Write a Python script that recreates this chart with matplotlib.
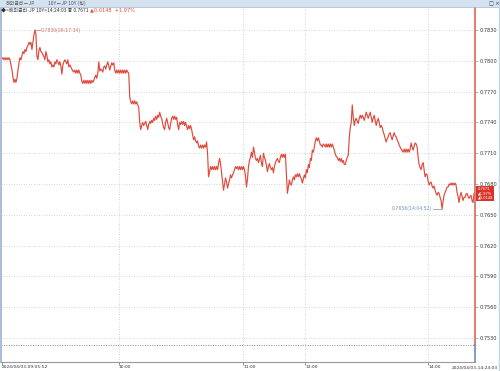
import matplotlib
matplotlib.use("Agg")
import matplotlib.pyplot as plt
from matplotlib.patches import Rectangle

plt.rcParams['font.family'] = ['Noto Sans CJK KR', 'DejaVu Sans']

# tick price series (one value per sample)
price = [
    .7802, .7803, .7801, .7803, .7801, .7803, .7801, .7803, .7801, .7796,
    .7791, .7784, .7779, .7782, .7779, .7783, .7791, .7798, .7803, .7801,
    .7805, .7809, .7807, .7811, .7809, .7813, .7815, .7818, .7816, .7818,
    .7811, .7818, .7825, .7830, .7826, .7804, .7801, .7810, .7813, .7809,
    .7808, .7806, .7804, .7801, .7809, .7805, .7799, .7801, .7797, .7799,
    .7794, .7796, .7794, .7799, .7797, .7801, .7799, .7796, .7799, .7795,
    .7787, .7796, .7799, .7801, .7799, .7797, .7801, .7794, .7796, .7794,
    .7792, .7790, .7789, .7791, .7788, .7791, .7788, .7791, .7788, .7786,
    .7780, .7778, .7781, .7778, .7781, .7778, .7781, .7778, .7781, .7778,
    .7781, .7779, .7781, .7784, .7786, .7783, .7788, .7799, .7790, .7792,
    .7791, .7789, .7794, .7795, .7792, .7796, .7799, .7795, .7791, .7795,
    .7798, .7796, .7798, .7791, .7788, .7791, .7788, .7791, .7788, .7791,
    .7788, .7791, .7788, .7791, .7788, .7791, .7789, .7788, .7765, .7760,
    .7758, .7761, .7758, .7761, .7758, .7760, .7757, .7755, .7740, .7733,
    .7737, .7740, .7737, .7739, .7741, .7737, .7733, .7738, .7741, .7739,
    .7742, .7740, .7744, .7742, .7746, .7743, .7747, .7745, .7750, .7746,
    .7744, .7739, .7735, .7733, .7740, .7744, .7740, .7735, .7733, .7739,
    .7744, .7746, .7743, .7746, .7743, .7745, .7738, .7733, .7740, .7738,
    .7741, .7738, .7741, .7737, .7740, .7736, .7733, .7737, .7734, .7737,
    .7733, .7728, .7723, .7726, .7722, .7720, .7722, .7717, .7715, .7718,
    .7715, .7718, .7715, .7718, .7716, .7721, .7710, .7687, .7692, .7697,
    .7694, .7697, .7694, .7697, .7694, .7697, .7694, .7700, .7705, .7700,
    .7691, .7683, .7674, .7680, .7686, .7682, .7676, .7680, .7684, .7689,
    .7686, .7689, .7691, .7694, .7697, .7695, .7697, .7694, .7697, .7694,
    .7697, .7694, .7697, .7694, .7688, .7677, .7685, .7697, .7703, .7706,
    .7711, .7706, .7716, .7711, .7705, .7703, .7705, .7701, .7704, .7708,
    .7700, .7697, .7710, .7706, .7703, .7698, .7692, .7697, .7700, .7696,
    .7694, .7696, .7691, .7697, .7701, .7703, .7705, .7702, .7701, .7706,
    .7709, .7706, .7709, .7706, .7709, .7689, .7671, .7677, .7684, .7680,
    .7679, .7684, .7687, .7684, .7689, .7687, .7690, .7687, .7690, .7687,
    .7685, .7681, .7685, .7689, .7686, .7694, .7691, .7699, .7696, .7705,
    .7703, .7713, .7711, .7716, .7722, .7725, .7722, .7725, .7722, .7718,
    .7718, .7716, .7719, .7718, .7716, .7719, .7716, .7719, .7716, .7719,
    .7716, .7719, .7716, .7713, .7709, .7707, .7706, .7703, .7705, .7702,
    .7705, .7701, .7703, .7699, .7699, .7703, .7706, .7708, .7725, .7735,
    .7740, .7757, .7745, .7737, .7742, .7744, .7741, .7739, .7744, .7747,
    .7744, .7747, .7745, .7742, .7746, .7750, .7747, .7744, .7747, .7750,
    .7745, .7740, .7744, .7747, .7742, .7737, .7741, .7744, .7740, .7735,
    .7737, .7735, .7731, .7728, .7724, .7721, .7724, .7726, .7729, .7730,
    .7726, .7723, .7727, .7730, .7727, .7726, .7723, .7721, .7718, .7716,
    .7714, .7713, .7711, .7714, .7711, .7714, .7711, .7714, .7711, .7714,
    .7720, .7716, .7713, .7717, .7720, .7719, .7716, .7706, .7699, .7696,
    .7694, .7699, .7701, .7694, .7687, .7690, .7689, .7683, .7679, .7681,
    .7682, .7678, .7676, .7678, .7674, .7671, .7669, .7672, .7671, .7667,
    .7664, .7656, .7663, .7669, .7672, .7674, .7677, .7677, .7680, .7679,
    .7681, .7679, .7681, .7679, .7681, .7679, .7672, .7668, .7662, .7668,
    .7672, .7668, .7664, .7667, .7667, .7670, .7671, .7668, .7666, .7668,
    .7669, .7664, .7662, .7671,
]

prev_close = 0.7523
last_price = 0.7671
change = 0.0148
change_pct = 1.97
high_label = "0.7830(09:17:34)"
low_label = "0.7656(14:04:52)"

y_ticks = [0.7530, 0.7560, 0.7590, 0.7620, 0.7650, 0.7680,
           0.7710, 0.7740, 0.7770, 0.7800, 0.7830]
x_tick_pos = [0, 117, 242, 304, 427]
x_tick_labels = ["2024/04/03-09:05:52", "10:00", "11:00", "13:00", "14:00"]
end_label = "2024/04/03-14:24:03"

RED = "#e04a3c"
BLUE = "#6e8fb8"
GRID = "#c8c8c8"

fig = plt.figure(figsize=(5.0, 3.71), dpi=100)
ax = fig.add_axes([1 / 500, 9 / 371, 474 / 500, 355 / 371])

x = list(range(len(price)))
ax.plot(x, price, color=RED, lw=0.85)

xmax = 474
ax.set_xlim(-1, xmax)
ax.set_ylim(0.75067, 0.78524)

# grid
for yt in y_ticks:
    ax.axhline(yt, color=GRID, lw=0.6, ls=(0, (1, 2)), zorder=0)
for xt in x_tick_pos[1:]:
    ax.axvline(xt, color=GRID, lw=0.6, ls=(0, (1, 2)), zorder=0)
ax.axhline(prev_close, color="#888888", lw=0.7, ls=(0, (1, 1.5)), zorder=0)

# axes look
for s in ["top", "right"]:
    ax.spines[s].set_visible(False)
ax.spines["left"].set_color("#a9bfd9")
ax.spines["left"].set_linewidth(1.5)
ax.spines["bottom"].set_color("#999999")
ax.spines["bottom"].set_linewidth(0.8)

ax.plot([xmax, xmax], [prev_close, 0.78524], color="#d46a5e", lw=1.2, clip_on=False)
ax.plot([xmax, xmax], [0.75067, prev_close], color=BLUE, lw=1.2, clip_on=False)

ax.yaxis.tick_right()
ax.set_yticks(y_ticks)
ax.set_yticklabels([f"{v:.4f}" for v in y_ticks], fontsize=3.6, color="#333333",
                   family="DejaVu Sans")
ax.tick_params(axis="y", length=2, width=0.5, color="#999999", pad=1.5)

ax.set_xticks(x_tick_pos)
ax.set_xticklabels(x_tick_labels, fontsize=3.2, color="#333333", family="DejaVu Sans")
ax.tick_params(axis="x", length=1.8, width=0.5, color="#666666", pad=0.2)
for lab in ax.get_xticklabels():
    lab.set_ha("left")
fig.text(498 / 500, 1.2 / 371, end_label, fontsize=3.2, color="#333333",
         ha="right", va="bottom", family="DejaVu Sans")

# high / low annotations
i_hi = price.index(max(price))
i_lo = price.index(min(price))
ax.plot([i_hi, i_hi + 5], [price[i_hi], price[i_hi]], color="#c9756b", lw=0.5)
ax.text(i_hi + 5.5, price[i_hi], high_label, fontsize=3.3, color="#c9756b",
        va="center", ha="left", family="DejaVu Sans")
ax.plot([i_lo - 9, i_lo], [price[i_lo], price[i_lo]], color=BLUE, lw=0.5)
ax.text(i_lo - 9.5, price[i_lo], low_label, fontsize=3.3, color=BLUE,
        va="center", ha="right", family="DejaVu Sans")

# current price box on the right axis
ax.text(xmax + 2.5, last_price,
        f"{last_price:.4f}\n▲{change_pct:.2f}%\n▲{change:.4f}",
        fontsize=2.6, color="white", va="center", ha="left", linespacing=1.0,
        family="DejaVu Sans", clip_on=False,
        bbox=dict(boxstyle="square,pad=0.35", fc="#d9342b", ec="none"))

# title bar and info line
fig.patches.append(Rectangle((0, 1 - 7 / 371), 1, 7 / 371, transform=fig.transFigure,
                             fc="#d5e3f1", ec="none"))
fig.lines.append(plt.Line2D([0, 1], [1 - 7 / 371, 1 - 7 / 371], transform=fig.transFigure,
                            color="#a9bfd9", lw=0.6))
fig.text(6 / 500, 1 - 3.5 / 371, "해외금리－JP", fontsize=3.6, color="#555555", va="center")
fig.text(48 / 500, 1 - 3.5 / 371, "10Y－JP 10Y (틱)", fontsize=3.6, color="#555555",
         va="center")
fig.text(489 / 500, 1 - 3.5 / 371, "□ ×", fontsize=3.6, color="#333333", va="center",
         family="DejaVu Sans")
fig.text(1 / 500, 1 - 10 / 371, "◆<해외금리-JP 10Y>14:24:03 종 0.7671", fontsize=3.6,
         color="#333333", va="center", family=["Noto Sans CJK KR", "DejaVu Sans"])
fig.text(90 / 500, 1 - 10 / 371, f"▲{change:.4f}  +{change_pct:.2f}%", fontsize=3.6,
         color=RED, va="center", family="DejaVu Sans")

# right frame edge
fig.lines.append(plt.Line2D([498.5 / 500, 498.5 / 500], [0, 1], transform=fig.transFigure,
                            color="#c3d4e8", lw=1.0))

fig.savefig("out.png", dpi=100)
